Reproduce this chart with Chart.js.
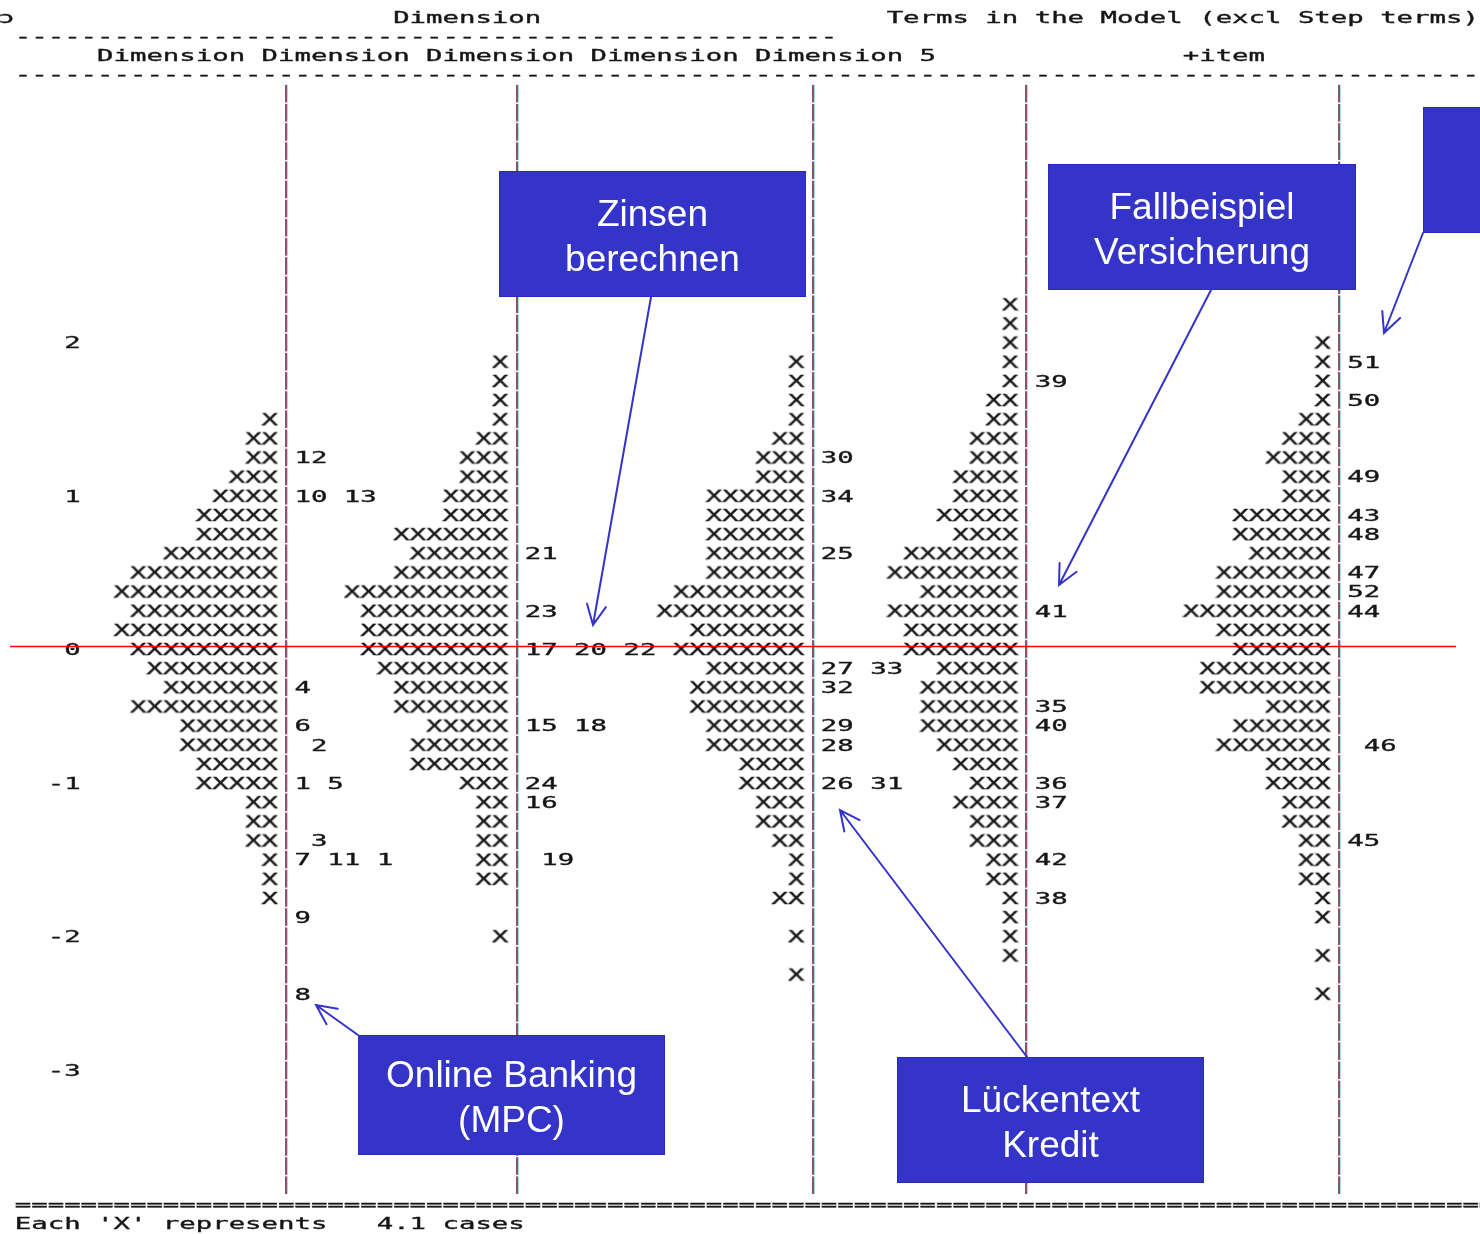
<!DOCTYPE html>
<html>
<head>
<meta charset="utf-8">
<title>Wright Map – Dimensionen und Items</title>
<script src="https://cdn.jsdelivr.net/npm/chart.js@4.4.1/dist/chart.umd.min.js"></script>
<style>
  html, body { margin: 0; padding: 0; background: #ffffff; overflow: hidden; }
  #wrap { width: 1480px; height: 1234px; position: relative; }
  canvas { display: block; }
</style>
</head>
<body>
<div id="wrap"><canvas id="map" width="1480" height="1234"></canvas></div>
<script>
// ---- Data -------------------------------------------------------------
// Text rows of the map, logit 0 = row 0, top row first.
const rows = [18, 17, 16, 15, 14, 13, 12, 11, 10, 9, 8, 7, 6, 5, 4, 3, 2, 1, 0,
              -1, -2, -3, -4, -5, -6, -7, -8, -9, -10, -11, -12, -13, -14, -15, -16, -17, -18];

// Number of 'X' per row for each dimension (each X = 4.1 cases)
const dim1Counts = [0, 0, 0, 0, 0, 0, 1, 2, 2, 3, 4, 5, 5, 7, 9, 10, 9, 10, 9,
                    8, 7, 9, 6, 6, 5, 5, 2, 2, 2, 1, 1, 1, 0, 0, 0, 0, 0];
const dim2Counts = [0, 0, 0, 1, 1, 1, 1, 2, 3, 3, 4, 4, 7, 6, 7, 10, 9, 9, 9,
                    8, 7, 7, 5, 6, 6, 3, 2, 2, 2, 2, 2, 0, 0, 1, 0, 0, 0];
const dim3Counts = [0, 0, 0, 1, 1, 1, 1, 2, 3, 3, 6, 6, 6, 6, 6, 8, 9, 7, 8,
                    6, 7, 7, 6, 6, 4, 4, 3, 3, 2, 1, 1, 2, 0, 1, 0, 1, 0];
const dim4Counts = [1, 1, 1, 1, 1, 2, 2, 3, 3, 4, 4, 5, 4, 7, 8, 6, 8, 7, 7,
                    5, 6, 6, 6, 5, 4, 3, 4, 3, 3, 2, 2, 1, 1, 1, 1, 0, 0];
const dim5Counts = [0, 0, 1, 1, 1, 1, 2, 3, 4, 3, 3, 6, 6, 5, 7, 7, 9, 7, 6,
                    8, 8, 4, 6, 7, 4, 4, 3, 3, 2, 2, 2, 1, 1, 0, 1, 0, 1];

// Item numbers placed on the map (row, label)
const dim1ItemRows = [10, 8, -2, -4, -5, -7, -10, -11, -14, -18];
const dim1ItemText = ['12', '10 13', '4', '6', ' 2', '1 5', ' 3', '7 11 1', '9', '8'];
const dim2ItemRows = [5, 2, 0, -4, -7, -8, -11];
const dim2ItemText = ['21', '23', '17 20 22', '15 18', '24', '16', ' 19'];
const dim3ItemRows = [10, 8, 5, -1, -2, -4, -5, -7];
const dim3ItemText = ['30', '34', '25', '27 33', '32', '29', '28', '26 31'];
const dim4ItemRows = [14, 2, -3, -4, -7, -8, -11, -13];
const dim4ItemText = ['39', '41', '35', '40', '36', '37', '42', '38'];
const dim5ItemRows = [15, 13, 9, 7, 6, 4, 3, 2, -5, -10];
const dim5ItemText = ['51', '50', '49', '43', '48', '47', '52', '44', ' 46', '45'];

// Logit scale labels on the left
const tickRows = [16, 8, 0, -7, -15, -22];
const tickText = ['2', '1', '0', '-1', '-2', '-3'];

// ---- Layout -------------------------------------------------------------
const W = 1480, H = 1234;
const COL_W = 16.45;          // width of one character cell
const ROW_H = 19.15;          // height of one text row
const ZERO_Y = 649;           // pixel row of logit 0
const X_MIN = 1.65 / COL_W, X_MAX = X_MIN + W / COL_W;
const Y_MAX = ZERO_Y / ROW_H, Y_MIN = -(H - ZERO_Y) / ROW_H;
const DIVIDER_COLS = [17, 31, 49, 62, 81];
const FONT_PX = 16;
const MONO = FONT_PX + 'px "DejaVu Sans Mono", "Liberation Mono", monospace';
const TEXT_COLOR = '#161616';

// horizontal stretch so one glyph fills one character cell
const measureCtx = document.createElement('canvas').getContext('2d');
measureCtx.font = MONO;
const SX = COL_W / measureCtx.measureText('0').width;
const BASE_SHIFT = 5.8; // baseline offset below row centre

function paintGlyphs(g, text) {
  g.font = MONO;
  g.fillStyle = TEXT_COLOR;
  g.strokeStyle = TEXT_COLOR;
  g.lineWidth = 0.35;
  g.textAlign = 'left';
  g.textBaseline = 'alphabetic';
  g.fillText(text, 0, 0);
  g.strokeText(text, 0, 0);
}

// glyph used for every person marker
const xGlyph = (() => {
  const c = document.createElement('canvas');
  c.width = 17; c.height = 20;
  const g = c.getContext('2d');
  g.translate(0.3, 10 + BASE_SHIFT);
  g.scale(SX, 1);
  paintGlyphs(g, 'X');
  return c;
})();

const counts = [dim1Counts, dim2Counts, dim3Counts, dim4Counts, dim5Counts];
const itemRows = [dim1ItemRows, dim2ItemRows, dim3ItemRows, dim4ItemRows, dim5ItemRows];
const itemText = [dim1ItemText, dim2ItemText, dim3ItemText, dim4ItemText, dim5ItemText];

function personPoints(cnt, divCol) {
  const pts = [];
  cnt.forEach((n, i) => {
    for (let j = 0; j < n; j++) pts.push({ x: divCol - 0.5 - j, y: rows[i] });
  });
  return pts;
}

function monoText(ctx, scales, text, col, row) {
  const x = scales.x.getPixelForValue(col);
  const y = scales.y.getPixelForValue(row);
  ctx.save();
  ctx.translate(x, y + BASE_SHIFT);
  ctx.scale(SX, 1);
  paintGlyphs(ctx, text);
  ctx.restore();
}

// call-out boxes with arrows
const BOX_BLUE = '#3434c9';
const callouts = [
  { lines: ['Zinsen', 'berechnen'], x: 499, y: 171, w: 307, h: 126, from: [651, 297], to: [593, 625] },
  { lines: ['Fallbeispiel', 'Versicherung'], x: 1048, y: 164, w: 308, h: 126, from: [1211, 290], to: [1059, 585] },
  { lines: [], x: 1423, y: 107, w: 120, h: 126, from: [1423, 233], to: [1384, 333] },
  { lines: ['Online Banking', '(MPC)'], x: 358, y: 1035, w: 307, h: 120, from: [358, 1035], to: [316, 1005] },
  { lines: ['Lückentext', 'Kredit'], x: 897, y: 1057, w: 307, h: 126, from: [1027, 1057], to: [840, 810] }
];

function drawArrow(ctx, a, b) {
  ctx.save();
  ctx.strokeStyle = BOX_BLUE;
  ctx.lineWidth = 2;
  ctx.lineCap = 'round';
  ctx.beginPath();
  ctx.moveTo(a[0], a[1]);
  ctx.lineTo(b[0], b[1]);
  const ang = Math.atan2(b[1] - a[1], b[0] - a[0]);
  const len = 22, spread = 0.45;
  ctx.moveTo(b[0] - len * Math.cos(ang - spread), b[1] - len * Math.sin(ang - spread));
  ctx.lineTo(b[0], b[1]);
  ctx.lineTo(b[0] - len * Math.cos(ang + spread), b[1] - len * Math.sin(ang + spread));
  ctx.stroke();
  ctx.restore();
}

const wrightMapPlugin = {
  id: 'wrightMap',
  beforeDraw(chart) {
    const ctx = chart.ctx;
    ctx.save();
    ctx.fillStyle = '#ffffff';
    ctx.fillRect(0, 0, chart.width, chart.height);
    ctx.restore();
  },
  beforeDatasetsDraw(chart) {
    const ctx = chart.ctx, s = chart.scales;
    ctx.save();
    DIVIDER_COLS.forEach(col => {
      const xc = Math.round(s.x.getPixelForValue(col + 0.5));
      for (let r = 29; r >= -28; r--) {
        const y = s.y.getPixelForValue(r);
        ctx.fillStyle = '#8a5462';
        ctx.fillRect(xc - 1, y - 8.8, 2, 17.6);
        ctx.fillStyle = 'rgba(140,200,235,0.7)';
        ctx.fillRect(xc + 1, y - 8.8, 1, 17.6);
      }
    });
    ctx.restore();
  },
  afterDatasetsDraw(chart) {
    const ctx = chart.ctx, s = chart.scales;

    // header
    monoText(ctx, s, 'ɔ', 0, 33);
    monoText(ctx, s, 'Dimension', 24, 33);
    monoText(ctx, s, 'Terms in the Model (excl Step terms)', 54, 33);
    monoText(ctx, s, '-'.repeat(50), 1, 32);
    monoText(ctx, s, 'Dimension Dimension Dimension Dimension Dimension 5', 6, 31);
    monoText(ctx, s, '+item', 72, 31);
    monoText(ctx, s, '-'.repeat(90), 1, 30);

    // logit labels
    tickRows.forEach((r, i) => monoText(ctx, s, tickText[i], 5 - tickText[i].length, r));

    // item numbers right of each divider
    itemRows.forEach((rowList, d) => {
      rowList.forEach((r, i) => monoText(ctx, s, itemText[d][i], DIVIDER_COLS[d] + 1, r));
    });

    // footer
    monoText(ctx, s, '='.repeat(90), 1, -29);
    monoText(ctx, s, "Each 'X' represents   4.1 cases", 1, -30);

    // reference line at logit 0
    const y0 = s.y.getPixelForValue(0) - 2.5;
    ctx.save();
    ctx.strokeStyle = '#ff0000';
    ctx.lineWidth = 1.6;
    ctx.beginPath();
    ctx.moveTo(10, y0);
    ctx.lineTo(1456, y0);
    ctx.stroke();
    ctx.restore();

    // call-outs
    callouts.forEach(c => {
      ctx.save();
      ctx.fillStyle = BOX_BLUE;
      ctx.fillRect(c.x, c.y, c.w, c.h);
      ctx.strokeStyle = '#2a2ab4';
      ctx.lineWidth = 1;
      ctx.strokeRect(c.x + 0.5, c.y + 0.5, c.w - 1, c.h - 1);
      ctx.fillStyle = '#ffffff';
      ctx.font = '37px "Liberation Sans", Arial, sans-serif';
      ctx.textAlign = 'center';
      ctx.textBaseline = 'middle';
      const cx = c.x + c.w / 2;
      const cy = c.y + c.h / 2 + 4;
      c.lines.forEach((t, i) => {
        ctx.fillText(t, cx, cy + (i - (c.lines.length - 1) / 2) * 45);
      });
      ctx.restore();
      drawArrow(ctx, c.from, c.to);
    });
  }
};

new Chart(document.getElementById('map'), {
  type: 'scatter',
  data: {
    datasets: counts.map((cnt, d) => ({
      label: 'Dimension ' + (d + 1),
      data: personPoints(cnt, DIVIDER_COLS[d]),
      pointStyle: xGlyph,
      pointRadius: 8,
      showLine: false
    }))
  },
  options: {
    responsive: false,
    devicePixelRatio: 1,
    animation: false,
    events: [],
    layout: { padding: 0, autoPadding: false },
    plugins: { legend: { display: false }, tooltip: { enabled: false } },
    scales: {
      x: { type: 'linear', display: false, min: X_MIN, max: X_MAX },
      y: { type: 'linear', display: false, min: Y_MIN, max: Y_MAX }
    }
  },
  plugins: [wrightMapPlugin]
});
</script>
</body>
</html>
